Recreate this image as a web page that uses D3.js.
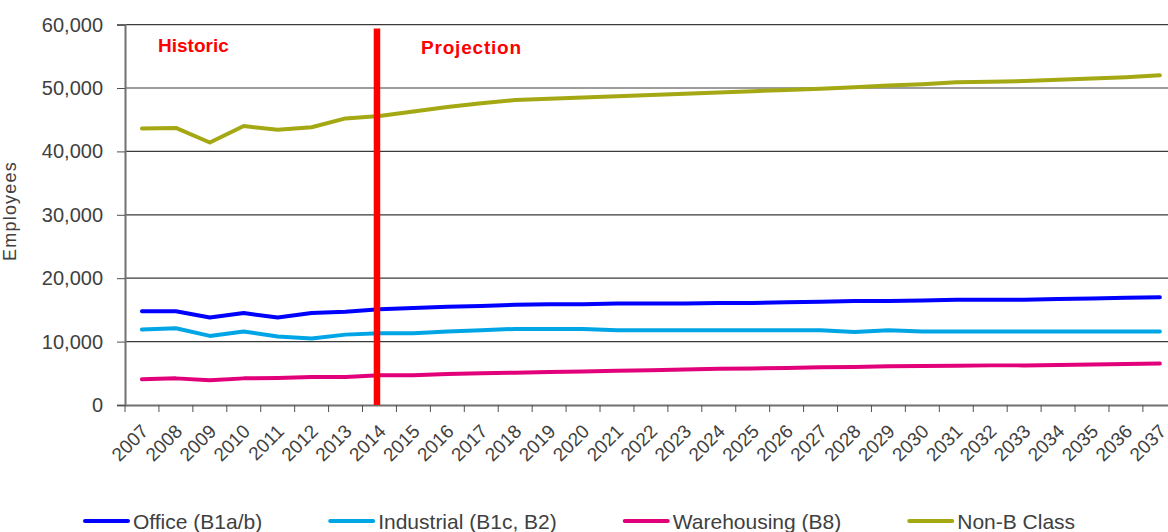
<!DOCTYPE html>
<html>
<head>
<meta charset="utf-8">
<script src="https://d3js.org/d3.v7.min.js"></script>
<style>
  body { margin: 0; background: #fff; }
  svg { display: block; font-family: "Liberation Sans", Arial, sans-serif; }
</style>
</head>
<body>
<script>
// chart data
let years = d3.range(2007, 2038).map(String);
let yTicks = [0, 10000, 20000, 30000, 40000, 50000, 60000];
let seriesNames = ["Office (B1a/b)", "Industrial (B1c, B2)", "Warehousing (B8)", "Non-B Class"];
let seriesColors = ["#0000ff", "#00a5e5", "#e2007a", "#a4a813"];

let office = [14800, 14800, 13800, 14500, 13800, 14500, 14700, 15100, 15300, 15500,
    15600, 15800, 15900, 15900, 16000, 16000, 16000, 16100, 16100, 16200,
    16300, 16400, 16400, 16500, 16600, 16600, 16600, 16700, 16800, 16900, 17000];
let industrial = [11900, 12100, 10900, 11600, 10800, 10500, 11100, 11300, 11300, 11600,
    11800, 12000, 12000, 12000, 11800, 11800, 11800, 11800, 11800, 11800,
    11800, 11500, 11800, 11600, 11600, 11600, 11600, 11600, 11600, 11600, 11600];
let warehousing = [4050, 4200, 3900, 4200, 4250, 4400, 4400, 4700, 4700, 4900,
    5000, 5100, 5200, 5300, 5400, 5500, 5600, 5700, 5750, 5850,
    5950, 6000, 6100, 6150, 6200, 6250, 6250, 6300, 6400, 6450, 6550];
let nonB = [43600, 43700, 41400, 44000, 43400, 43800, 45200, 45600, 46300, 47000,
    47600, 48100, 48300, 48500, 48700, 48900, 49100, 49300, 49500, 49700,
    49900, 50100, 50400, 50600, 50900, 51000, 51100, 51300, 51500, 51700, 52000];
let seriesValues = [office, industrial, warehousing, nonB];

let splitYear = "2014";

function draw() {
    let width = 1168;
    let height = 532;
    let left = 125;
    let bottom = 405;
    let top = 24.6;
    let step = 33.93;

    let svg = d3.select('body').append('svg')
        .attr('width', width)
        .attr('height', height);

    let x = d3.scaleBand()
        .domain(years)
        .range([left, left + step * years.length]);

    let y = d3.scaleLinear()
        .domain([0, 60000])
        .range([bottom, top]);

    // gridlines
    svg.append('g').selectAll('line')
        .data(yTicks.filter(d => d > 0))
        .enter().append('line')
        .attr('x1', left).attr('x2', x.range()[1])
        .attr('y1', d => y(d)).attr('y2', d => y(d))
        .attr('stroke', '#3a3a3a')
        .attr('stroke-width', 1.2);

    // y axis
    let yAxis = svg.append('g')
        .attr('transform', `translate(${left},0)`)
        .call(d3.axisLeft(y).tickValues(yTicks).tickFormat(d3.format(',')).tickSize(8).tickPadding(14));
    yAxis.select('.domain').attr('stroke', '#707070').attr('stroke-width', 2);
    yAxis.selectAll('.tick line').attr('stroke', '#505050');
    yAxis.selectAll('.tick text')
        .attr('fill', '#404040')
        .style('font-size', '20px');

    // x axis
    let xAxis = svg.append('g')
        .attr('transform', `translate(0,${bottom})`)
        .call(d3.axisBottom(x).tickSize(0).tickFormat(''));
    xAxis.select('.domain').attr('stroke', '#707070').attr('stroke-width', 2);

    // x ticks between categories
    svg.append('g').selectAll('line')
        .data(years)
        .enter().append('line')
        .attr('x1', d => x(d)).attr('x2', d => x(d))
        .attr('y1', bottom).attr('y2', bottom + 7)
        .attr('stroke', '#505050');

    svg.append('g').selectAll('text')
        .data(years)
        .enter().append('text')
        .attr('transform', d => `translate(${x(d) + x.bandwidth() / 2 - 2},423) rotate(-45)`)
        .attr('text-anchor', 'end')
        .attr('dy', '0.71em')
        .attr('fill', '#404040')
        .style('font-size', '19px')
        .text(d => d);

    // y axis title
    svg.append('text')
        .attr('transform', 'translate(16,211) rotate(-90)')
        .attr('text-anchor', 'middle')
        .attr('fill', '#404040')
        .style('font-size', '18px')
        .style('letter-spacing', '1.2px')
        .text('Employees');

    // series lines
    let line = d3.line()
        .x((d, i) => x(years[i]) + x.bandwidth() / 2)
        .y(d => y(d));

    svg.append('g').selectAll('path')
        .data(seriesValues)
        .enter().append('path')
        .attr('d', line)
        .attr('fill', 'none')
        .attr('stroke', (d, i) => seriesColors[i])
        .attr('stroke-width', 4)
        .attr('stroke-linejoin', 'round')
        .attr('stroke-linecap', 'round');

    // historic / projection divider
    let sx = x(splitYear) + x.bandwidth() / 2 - 2.5;
    svg.append('line')
        .attr('x1', sx).attr('x2', sx)
        .attr('y1', 28.5).attr('y2', bottom)
        .attr('stroke', '#ff0000')
        .attr('stroke-width', 6.5);

    svg.append('text')
        .attr('x', 158).attr('y', 52)
        .attr('fill', '#ff0000')
        .style('font-size', '19px')
        .style('font-weight', 'bold')
        .text('Historic');

    svg.append('text')
        .attr('x', 421).attr('y', 54)
        .attr('fill', '#ff0000')
        .style('font-size', '19px')
        .style('font-weight', 'bold')
        .style('letter-spacing', '0.8px')
        .text('Projection');

    // legend
    let lx = 85;
    let ly = 521;
    seriesNames.forEach(function (name, i) {
        let g = svg.append('g');
        g.append('line')
            .attr('x1', lx).attr('x2', lx + 43)
            .attr('y1', ly).attr('y2', ly)
            .attr('stroke', seriesColors[i])
            .attr('stroke-width', 4)
            .attr('stroke-linecap', 'round');
        let t = g.append('text')
            .attr('x', lx + 48).attr('y', ly)
            .attr('dy', '0.36em')
            .attr('fill', '#404040')
            .style('font-size', '21px')
            .text(name);
        lx += 48 + t.node().getComputedTextLength() + 68;
    });
}

draw();
</script>
</body>
</html>
